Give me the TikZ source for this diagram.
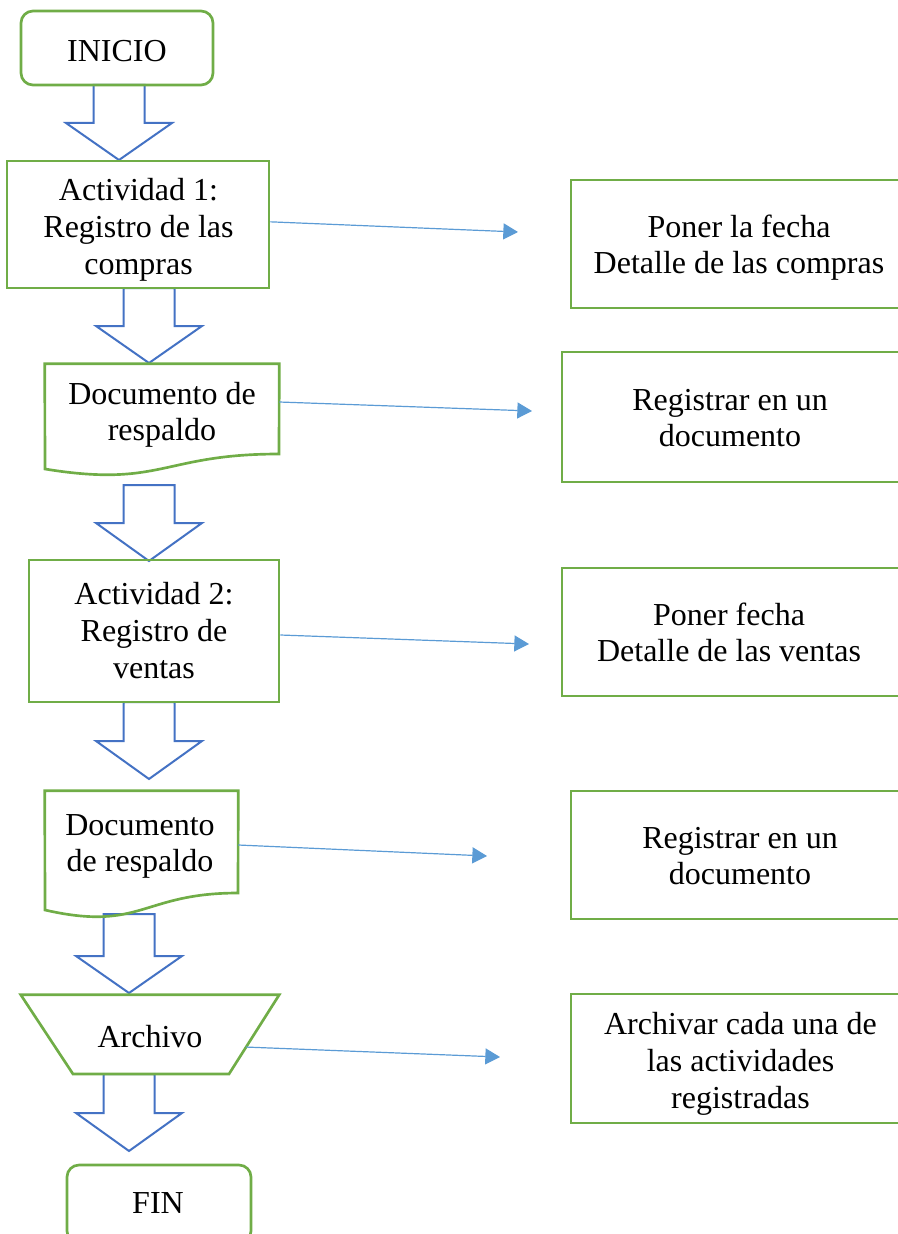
\documentclass[tikz,border=0pt]{standalone}
\usepackage{fontspec}
\setmainfont{Liberation Serif}
\usetikzlibrary{fit,arrows.meta,calc}
\definecolor{gr}{HTML}{70AD47}
\definecolor{bl}{HTML}{4472C4}
\definecolor{lb}{HTML}{5B9BD5}
\newcommand{\blockarrow}[4]{\draw[barrow] (#1-25.5,#2) -- (#1+25.5,#2) -- (#1+25.5,#3) -- (#1+53,#3) -- (#1,#4) -- (#1-53,#3) -- (#1-25.5,#3) -- cycle;}
\begin{document}
\begin{tikzpicture}[x=0.75pt,y=-0.75pt,
  font=\fontsize{24}{27.5}\selectfont,
  box/.style={draw=gr, line width=2pt, inner sep=0pt},
  shp/.style={draw=none, inner sep=0pt},
  txt/.style={inner sep=0pt, align=center, anchor=base},
  outline/.style={draw=gr, line width=2pt, line join=miter},
  barrow/.style={draw=bl, line width=1.5pt, fill=white, line join=miter},
  conn/.style={draw=lb, line width=0.9pt, -{Triangle[length=11pt,width=12pt]}}]
\useasboundingbox (0,0) rectangle (898,1234);
\clip (0,0) rectangle (898,1234);

% block arrows
\blockarrow{119}{85}{123}{160}
\blockarrow{149}{288}{326}{363}
\blockarrow{149}{485}{523}{561}
\blockarrow{149}{702}{741}{779}
\blockarrow{129}{914}{956}{993}
\blockarrow{129}{1074}{1113}{1151}

% left column shapes
\node[box, rounded corners=9pt, fit={(21,11) (213,85)}] (ini) {};
\node[box, fit={(7,161) (269,288)}] (act1) {};
\node[shp, fit={(45,364) (279,466)}] (doc1) {};
\draw[outline] (doc1.north west) -- (doc1.north east) -- (279,454) .. controls (162,454) and (162,488) .. (45,469) -- cycle;
\node[box, fit={(29,560) (279,702)}] (act2) {};
\node[shp, fit={(45,791) (238,899)}] (doc2) {};
\draw[outline] (doc2.north west) -- (doc2.north east) -- (238,893) .. controls (141.5,893) and (141.5,932) .. (45,910) -- cycle;
\node[shp, fit={(21,995) (279,1074)}] (arch) {};
\draw[outline] (arch.north west) -- (arch.north east) -- (229,1074) -- (73,1074) -- cycle;
\node[box, rounded corners=9pt, fit={(67,1165) (251,1243)}] (fin) {};

% left column texts (anchor = baseline of last line)
\node[txt] (ini-t) at (117,61.7) {INICIO};
\node[txt] (act1-t) at (138.5,274) {Actividad 1:\\Registro de las\\compras};
\node[txt] (doc1-t) at (162,440.7) {Documento de\\respaldo};
\node[txt] (act2-t) at (154,678.3) {Actividad 2:\\Registro de\\ventas};
\node[txt] (doc2-t) at (140,871.7) {Documento\\de respaldo};
\node[txt] (arch-t) at (150,1047) {Archivo};
\node[txt] (fin-t) at (158,1213) {FIN};

% right column
\node[box, fit={(571,180) (910,308)}] (rA) {};
\node[box, fit={(562,352) (902,482)}] (rB) {};
\node[box, fit={(562,568) (902,696)}] (rC) {};
\node[box, fit={(571,791) (910,919)}] (rD) {};
\node[box, fit={(571,994) (910,1123)}] (rE) {};
\node[txt] (rA-t) at (739,273.7) {Poner la fecha\\Detalle de las compras};
\node[txt] (rB-t) at (730,446.7) {Registrar en un\\documento};
\node[txt] (rC-t) at (729,661.7) {Poner fecha\\Detalle de las ventas};
\node[txt] (rD-t) at (740,884.7) {Registrar en un\\documento};
\node[txt] (rE-t) at (740.5,1108.3) {Archivar cada una de\\las actividades\\registradas};

% thin connectors
\coordinate (tA) at (518,232);
\draw[conn] ([yshift=2pt]act1.east) -- (tA);
\coordinate (tB) at (532,411);
\draw[conn] ([yshift=9.75pt]doc1.east) -- (tB);
\coordinate (tC) at (529,644);
\draw[conn] ([yshift=-3pt]act2.east) -- (tC);
\coordinate (tD) at (487,856);
\draw[conn] (doc2.east) -- (tD);
\coordinate (tE) at (500,1057);
\coordinate (aE) at ($(arch.north east)!0.66!(229,1074)$);
\draw[conn] (aE) -- (tE);
\end{tikzpicture}
\end{document}
